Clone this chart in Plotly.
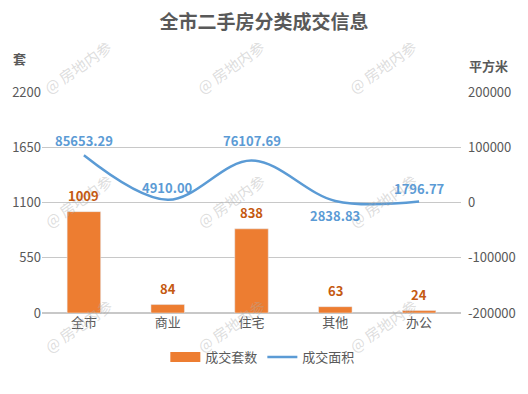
import plotly.graph_objects as go

categories = ["全市", "商业", "住宅", "其他", "办公"]
units = [1009, 84, 838, 63, 24]
area = [85653.29, 4910.00, 76107.69, 2838.83, 1796.77]
left_ticks = [0, 550, 1100, 1650, 2200]
right_ticks = [-200000, -100000, 0, 100000, 200000]

area_label_shift = [15, 12, 20, -15, 13]

FONT = "Noto Sans CJK SC"
TXT = "#595959"
BAR = "#ED7D31"
LINE = "#5B9BD5"

W, H = 528, 394
L, R, T, B = 40, 63, 92, 81
pw, ph = W - L - R, H - T - B


def px2paper(px, py):
    return (px - L) / pw, (H - B - py) / ph


fig = go.Figure()
fig.add_trace(go.Bar(
    x=categories, y=units, name="成交套数", marker_color=BAR, width=0.4,
    yaxis="y", hoverinfo="skip", showlegend=False,
))
# legend swatch for the bars (wide rectangle)
fig.add_trace(go.Scatter(
    x=[None], y=[None], name="成交套数", mode="lines",
    line=dict(color=BAR, width=11), yaxis="y", hoverinfo="skip",
))
fig.add_trace(go.Scatter(
    x=categories, y=area, name="成交面积", mode="lines",
    line=dict(color=LINE, width=2.5, shape="spline", smoothing=1.0),
    yaxis="y2", hoverinfo="skip",
))

annotations = []

# watermarks
wm_x = [77, 232, 386]
wm_y = [67, 200, 325]
for wy in wm_y:
    for wx in wm_x:
        xx, yy = px2paper(wx, wy)
        annotations.append(dict(
            x=xx, y=yy, xref="paper", yref="paper", text="@ 房地内参",
            xanchor="center", yanchor="middle",
            showarrow=False, textangle=-35,
            font=dict(family=FONT, size=15, color="rgba(170,170,170,0.4)"),
        ))

for c, v in zip(categories, units):
    annotations.append(dict(
        x=c, y=v, xref="x", yref="y", text=f"<b>{v}</b>", showarrow=False,
        yshift=16, font=dict(family=FONT, size=13, color="#C55A11"),
    ))
for c, v, s in zip(categories, area, area_label_shift):
    annotations.append(dict(
        x=c, y=v, xref="x", yref="y2", text=f"<b>{v:.2f}</b>", showarrow=False,
        yshift=s, font=dict(family=FONT, size=13, color=LINE),
    ))

ax_, ay_ = px2paper(17, 58)
annotations.append(dict(x=ax_, y=ay_, xref="paper", yref="paper", text="<b>套</b>",
                        xanchor="center", yanchor="middle",
                        showarrow=False, font=dict(family=FONT, size=13, color=TXT)))
bx_, by_ = px2paper(493, 65)
annotations.append(dict(x=bx_, y=by_, xref="paper", yref="paper", text="<b>平方米</b>",
                        xanchor="center", yanchor="middle",
                        showarrow=False, font=dict(family=FONT, size=13, color=TXT)))

lx, ly = px2paper(264, 357)

fig.update_layout(
    width=W, height=H,
    margin=dict(l=L, r=R, t=T, b=B),
    paper_bgcolor="white", plot_bgcolor="white",
    title=dict(text="<b>全市二手房分类成交信息</b>", x=0.5, xref="container",
               xanchor="center", y=1 - 22 / H, yref="container", yanchor="middle",
               font=dict(family=FONT, size=19, color=TXT)),
    font=dict(family=FONT, size=13, color=TXT),
    showlegend=True,
    legend=dict(orientation="h", x=lx, y=ly, xanchor="center", yanchor="middle",
                font=dict(family=FONT, size=13, color=TXT), bgcolor="rgba(0,0,0,0)",
                itemwidth=30, tracegroupgap=0),
    xaxis=dict(showgrid=False, showline=False, ticks="", tickfont=dict(size=13, color=TXT),
               fixedrange=True),
    yaxis=dict(range=[0, 2200], tickvals=left_ticks, showgrid=True, gridcolor="#C8C8C8",
               gridwidth=1, zeroline=True, zerolinecolor="#C8C8C8", showline=False,
               tickfont=dict(size=13, color=TXT), ticks="", fixedrange=True),
    yaxis2=dict(range=[-200000, 200000], tickvals=right_ticks,
                ticktext=[str(v) for v in right_ticks], overlaying="y", side="right",
                showgrid=False, zeroline=False, showline=False, ticklabelstandoff=6,
                tickfont=dict(size=13, color=TXT), ticks="", fixedrange=True),
    annotations=annotations,
)

fig.write_html("out.html", post_script="document.body.style.margin='0';",
               config={"displayModeBar": False, "staticPlot": True})
